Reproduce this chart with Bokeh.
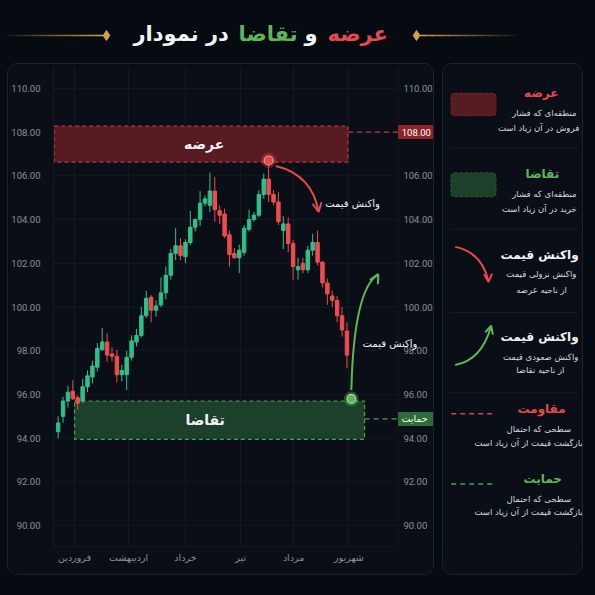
import numpy as np
from bokeh.plotting import figure
from bokeh.models import (Range1d, FixedTicker, BoxAnnotation, Arrow, OpenHead, Spacer,
                          ColumnDataSource, NumeralTickFormatter, CustomJSTickFormatter)
from bokeh.layouts import column, row
from bokeh.embed import file_html
from bokeh.resources import INLINE
from bokeh.core.properties import value

# ---------------- data ----------------
opens = [94.3, 95.0, 95.7, 96.15, 95.85, 95.7, 96.35, 96.8, 97.25, 98.05,
         98.4, 97.85, 97.75, 96.9, 96.9, 97.7, 98.4, 98.7, 99.6, 100.45,
         99.85, 100.1, 100.65, 101.45, 102.45, 102.8, 102.3, 102.95, 103.65, 104.0,
         104.75, 104.65, 105.3, 104.4, 104.25, 103.3, 102.45, 102.25, 102.5, 103.55,
         104.0, 104.2, 105.15, 105.85, 105.15, 104.8, 103.5, 103.8, 102.9, 101.7,
         102.0, 101.7, 102.6, 102.95, 102.05, 101.1, 100.5, 100.3, 99.6, 98.9]
closes = [94.7, 95.7, 96.1, 95.8, 95.6, 96.35, 96.85, 97.3, 98.1, 98.4,
          97.8, 97.75, 96.9, 97.1, 97.7, 98.45, 98.7, 99.6, 100.4, 99.85,
          100.05, 100.65, 101.45, 102.45, 102.8, 102.35, 102.95, 103.65, 104.0, 104.75,
          104.95, 105.3, 104.45, 104.2, 103.25, 102.4, 102.25, 102.6, 103.6, 104.0,
          104.2, 105.15, 105.85, 105.15, 104.8, 103.9, 103.8, 102.9, 101.85, 101.85,
          101.7, 102.6, 102.95, 102.05, 101.1, 100.6, 100.3, 99.6, 98.95, 97.8]
highs = [95.0, 95.9, 96.4, 96.65, 95.95, 96.7, 97.1, 97.55, 98.35, 99.05,
         98.8, 98.15, 98.05, 97.35, 98.0, 98.7, 99.0, 100.0, 100.75, 100.55,
         100.3, 101.35, 101.85, 102.65, 103.6, 103.15, 103.1, 104.4, 104.05, 105.3,
         105.1, 106.15, 105.95, 104.65, 104.5, 103.5, 102.7, 102.85, 103.75, 104.45,
         104.35, 105.35, 106.1, 106.7, 105.35, 105.25, 104.15, 104.1, 103.05, 102.25,
         102.25, 102.8, 103.35, 103.5, 102.1, 101.3, 100.75, 100.5, 100.0, 99.3]
lows = [94.0, 94.7, 95.4, 95.75, 95.3, 95.6, 96.1, 96.5, 97.05, 98.0,
        97.5, 97.5, 96.55, 96.6, 96.2, 97.55, 98.2, 98.6, 99.5, 99.3,
        99.55, 100.0, 100.35, 101.25, 102.15, 102.15, 102.0, 102.85, 103.45, 103.7,
        104.6, 104.35, 103.9, 103.8, 103.15, 101.85, 102.2, 101.55, 102.35, 103.45,
        103.9, 104.1, 104.95, 104.8, 104.65, 103.75, 102.65, 102.5, 101.25, 101.25,
        101.55, 101.55, 102.35, 101.9, 100.9, 100.1, 100.0, 99.3, 98.65, 97.2]

months = ["فروردین", "اردیبهشت", "خرداد", "تیر", "مرداد", "شهریور"]
month_pos = [3.35, 14.4, 26.0, 37.3, 48.1, 59.4]
y_ticks = [90, 92, 94, 96, 98, 100, 102, 104, 106, 108, 110]

supply_low, supply_high = 106.63, 108.27
supply_start, supply_end = -0.8, 59.2
demand_low, demand_high = 93.95, 95.7
demand_start, demand_end = 3.35, 62.6
resistance_level = 108.0
support_level = 94.88
peak_index = 43
bounce_x, bounce_y = 59.9, 95.8

# ---------------- colours ----------------
BG = "#060a11"
CARD = "#0a0e16"
CARD_LINE = "#1c2330"
GRID = "#131a24"
TICK = "#8a9099"
GC = "#2fc08a"
RC = "#ef4c4f"
RED = "#e5484d"
GREEN = "#5db75a"
WHITE = "#f2f3f5"
GOLD = "#d3a04a"
FA = value("DejaVu Sans")
NUM = value("Roboto")

# ---------------- title ----------------
t = figure(width=595, height=63, x_range=Range1d(0, 595), y_range=Range1d(0, 63),
           output_backend="svg", toolbar_location=None, min_border=0,
           background_fill_color=BG, border_fill_color=BG, outline_line_color=None)
t.axis.visible = False
t.grid.visible = False
ty = 28
n = 12
for k in range(n):
    a = 0.06 + 0.94 * (k + 1) / n
    xl0 = 7 + 96 * k / n
    t.segment(x0=[xl0], y0=[ty], x1=[xl0 + 96 / n], y1=[ty], line_color=GOLD, line_alpha=a, line_width=1.5)
    xr0 = 419 + 96 * k / n
    t.segment(x0=[xr0], y0=[ty], x1=[xr0 + 96 / n], y1=[ty], line_color=GOLD, line_alpha=1.0 - 0.94 * k / n, line_width=1.5)
t.scatter(x=[106, 416], y=[ty, ty], marker="diamond", size=10, fill_color=GOLD, line_color=GOLD)
title_words = ["عرضه", "و", "تقاضا", "در نمودار"]
title_cols = [RED, WHITE, GREEN, WHITE]
title_left = [327, 304, 238, 133]
t.text(x=title_left, y=[ty + 2] * 4, text=title_words, text_color=title_cols, text_align="left",
       text_baseline="middle", text_font=FA, text_font_style="bold", text_font_size="21px")

# ---------------- chart ----------------
X_END = 69.44          # right edge of the price area
p = figure(width=427, height=512, x_range=Range1d(-0.95, 77.09), y_range=Range1d(89, 111),
           output_backend="svg", toolbar_location=None,
           min_border_left=39, min_border_right=0, min_border_top=2, min_border_bottom=29,
           background_fill_color=CARD, border_fill_color=CARD, outline_line_color=None)
p.styles = {"border": "1px solid " + CARD_LINE, "border-radius": "10px", "overflow": "hidden"}

ya = p.yaxis[0]
ya.ticker = FixedTicker(ticks=y_ticks)
ya.formatter = NumeralTickFormatter(format="0.00")
ya.major_label_text_color = TICK
ya.major_label_text_font = "Roboto"
ya.major_label_text_font_size = "9.5px"
ya.axis_line_color = GRID
ya.major_tick_line_color = None
ya.minor_tick_line_color = None
ya.major_label_standoff = 7
xa = p.xaxis[0]
xa.ticker = FixedTicker(ticks=month_pos)
xa.formatter = CustomJSTickFormatter(args=dict(names=months), code="return names[index] || '';")
xa.major_label_text_color = TICK
xa.major_label_text_font = "DejaVu Sans"
xa.major_label_text_font_size = "9.5px"
xa.axis_line_color = None
xa.major_tick_line_color = None
xa.minor_tick_line_color = None
xa.major_label_standoff = -2
p.xgrid.ticker = FixedTicker(ticks=month_pos)
p.xgrid.grid_line_color = GRID
p.ygrid.visible = False

# horizontal grid, right axis line, bottom axis line, right-hand price labels
p.segment(x0=-0.95, x1=X_END, y0=y_ticks, y1=y_ticks, line_color=GRID, line_width=1)
p.segment(x0=[X_END], x1=[X_END], y0=[89], y1=[111], line_color=GRID, line_width=1)
p.segment(x0=[-0.95], x1=[X_END], y0=[89.03], y1=[89.03], line_color=GRID, line_width=1)
p.text(x=[X_END + 1.1] * len(y_ticks), y=y_ticks, text=["%.2f" % v for v in y_ticks],
       text_color=TICK, text_font=NUM, text_font_size="9.5px", text_align="left", text_baseline="middle")

o = np.array(opens); c = np.array(closes)
idx = np.arange(len(opens))
cols = np.where(c >= o, GC, RC)
src = ColumnDataSource(dict(x=idx, top=np.maximum(o, c), bottom=np.minimum(o, c),
                            high=highs, low=lows, color=cols))

p.quad(left=[supply_start], right=[supply_end], bottom=[supply_low], top=[supply_high],
       fill_color="#5c1e23", fill_alpha=0.95, line_color="#c2353d", line_dash="4 3", line_width=1.2)
p.quad(left=[demand_start], right=[demand_end], bottom=[demand_low], top=[demand_high],
       fill_color="#1d432a", fill_alpha=0.95, line_color="#4aa257", line_dash="4 3", line_width=1.2)
p.segment(x0=[supply_end], y0=[resistance_level], x1=[X_END], y1=[resistance_level],
          line_color="#c2353d", line_dash="5 4", line_width=1.3)
p.segment(x0=[demand_end], y0=[support_level], x1=[X_END], y1=[support_level],
          line_color="#4aa257", line_dash="5 4", line_width=1.3)

# badges on the right price scale
p.rect(x=[X_END + 3.62, X_END + 3.62], y=[resistance_level, support_level], width=7.24, height=0.64,
       fill_color=["#8e2329", "#2f6b3a"], line_color=None)
p.text(x=[X_END + 0.75], y=[resistance_level], text=["%.2f" % resistance_level], text_color="white",
       text_font=NUM, text_font_size="9.5px", text_align="left", text_baseline="middle")
p.text(x=[X_END + 0.7], y=[support_level], text=["حمایت"], text_color="white",
       text_font=FA, text_font_size="9.5px", text_align="left", text_baseline="middle")

p.segment(x0="x", y0="low", x1="x", y1="high", line_color="color", line_width=1, source=src)
p.vbar(x="x", width=0.7, top="top", bottom="bottom", fill_color="color", line_color="color", source=src)

p.text(x=[25.7, 26.0], y=[(supply_low + supply_high) / 2, (demand_low + demand_high) / 2],
       text=["عرضه", "تقاضا"], text_color=WHITE, text_align="left", text_baseline="middle",
       text_font=FA, text_font_style="bold", text_font_size="14px")

p.quadratic(x0=[44.45], y0=[106.45], cx=[51.9], cy=[106.05], x1=[53.2], y1=[104.35],
            line_color=RED, line_width=2)
p.add_layout(Arrow(end=OpenHead(size=9, line_color=RED, line_width=2),
                   x_start=53.14, y_start=104.43, x_end=53.2, y_end=104.35,
                   line_color=RED, line_width=2))
p.quadratic(x0=[bounce_x], y0=[96.2], cx=[60.4], cy=[100.8], x1=[65.4], y1=[101.5],
            line_color=GREEN, line_width=2)
p.add_layout(Arrow(end=OpenHead(size=9, line_color=GREEN, line_width=2),
                   x_start=65.3, y_start=101.46, x_end=65.4, y_end=101.5,
                   line_color=GREEN, line_width=2))
p.text(x=[54.56, 62.2], y=[104.75, 98.35], text=["واکنش قیمت", "واکنش قیمت"], text_color=WHITE,
       text_align="left", text_baseline="middle", text_font=FA, text_font_size="10px")

p.scatter(x=[peak_index], y=[highs[peak_index]], size=15, fill_color=RED, fill_alpha=0.35, line_color=None)
p.scatter(x=[peak_index], y=[highs[peak_index]], size=9, fill_color=RED, line_color="#ff8f8f", line_width=1.2)
p.scatter(x=[bounce_x], y=[bounce_y], size=15, fill_color=GREEN, fill_alpha=0.35, line_color=None)
p.scatter(x=[bounce_x], y=[bounce_y], size=9, fill_color=GREEN, line_color="#9be39a", line_width=1.2)

# ---------------- legend panel ----------------
L = figure(width=141, height=512, x_range=Range1d(0, 141), y_range=Range1d(0, 512),
           output_backend="svg", toolbar_location=None, min_border=0,
           background_fill_color=CARD, border_fill_color=CARD, outline_line_color=None)
L.styles = {"border": "1px solid " + CARD_LINE, "border-radius": "10px", "overflow": "hidden"}
L.axis.visible = False
L.grid.visible = False

L.add_layout(BoxAnnotation(left=7.3, right=52.7, bottom=459.3, top=483.7, fill_color="#5c1e23",
                           fill_alpha=0.95, line_color="#c2353d", line_dash="3 2", line_width=1.2,
                           border_radius=4, level="underlay"))
L.add_layout(BoxAnnotation(left=7.3, right=52.7, bottom=373.3, top=399, fill_color="#1d432a",
                           fill_alpha=0.95, line_color="#4aa257", line_dash="3 2", line_width=1.2,
                           border_radius=4, level="underlay"))
L.segment(x0=[7, 7, 7, 7], y0=[425.3, 338.7, 250, 165.3], x1=[134] * 4, y1=[425.3, 338.7, 250, 165.3],
          line_color="#181e28", line_width=1)

L.quadratic(x0=[11.7], y0=[320], cx=[39], cy=[314], x1=[45], y1=[282.7], line_color=RED, line_width=2)
L.add_layout(Arrow(end=OpenHead(size=8, line_color=RED, line_width=2), x_start=44.9, y_start=284.5,
                   x_end=45, y_end=282.7, line_color=RED, line_width=2))
L.quadratic(x0=[11.7], y0=[194.3], cx=[38.3], cy=[199.3], x1=[47.7], y1=[236], line_color=GREEN, line_width=2)
L.add_layout(Arrow(end=OpenHead(size=8, line_color=GREEN, line_width=2), x_start=47.3, y_start=234.5,
                   x_end=47.7, y_end=236, line_color=GREEN, line_width=2))

L.segment(x0=[7.7], y0=[142.3], x1=[51.7], y1=[142.3], line_color="#d8414a", line_dash="5 4", line_width=1.5)
L.segment(x0=[7.7], y0=[67.7], x1=[51.7], y1=[67.7], line_color="#4aa257", line_dash="5 4", line_width=1.5)

heads = ["عرضه", "تقاضا", "واکنش قیمت", "واکنش قیمت", "مقاومت", "حمایت"]
head_x = [80.5, 82, 57, 57, 74, 80]
head_y = [483.3, 397.7, 311, 224.3, 147.7, 72.7]
head_c = [RED, GREEN, WHITE, WHITE, RED, GREEN]
L.text(x=head_x, y=head_y, text=heads, text_color=head_c, text_align="left", text_baseline="middle",
       text_font=FA, text_font_style="bold", text_font_size="12px")
desc = ["منطقه‌ای که فشار", "فروش در آن زیاد است", "منطقه‌ای که فشار", "خرید در آن زیاد است",
        "واکنش نزولی قیمت", "از ناحیه عرضه", "واکنش صعودی قیمت", "از ناحیه تقاضا",
        "سطحی که احتمال", "بازگشت قیمت از آن زیاد است", "سطحی که احتمال", "بازگشت قیمت از آن زیاد است"]
desc_x = [68.7, 54.5, 68.7, 58.5, 62.8, 72.7, 59.5, 72.7, 63, 31, 63, 31]
desc_y = [462.7, 446.7, 376.7, 360.3, 291, 274.3, 203.3, 189.3, 126, 111.7, 51.7, 37.7]
L.text(x=desc_x, y=desc_y, text=desc, text_color="#d6d9de", text_align="left", text_baseline="middle",
       text_font=FA, text_font_size="8.5px")

layout = column(t, row(Spacer(width=7), p, Spacer(width=8), L, spacing=0), spacing=0)
html = file_html(layout, INLINE, title="عرضه و تقاضا در نمودار")
html = html.replace("<head>", "<head><style>html,body{background:%s;}</style>" % BG, 1)
open("out.html", "w").write(html)
